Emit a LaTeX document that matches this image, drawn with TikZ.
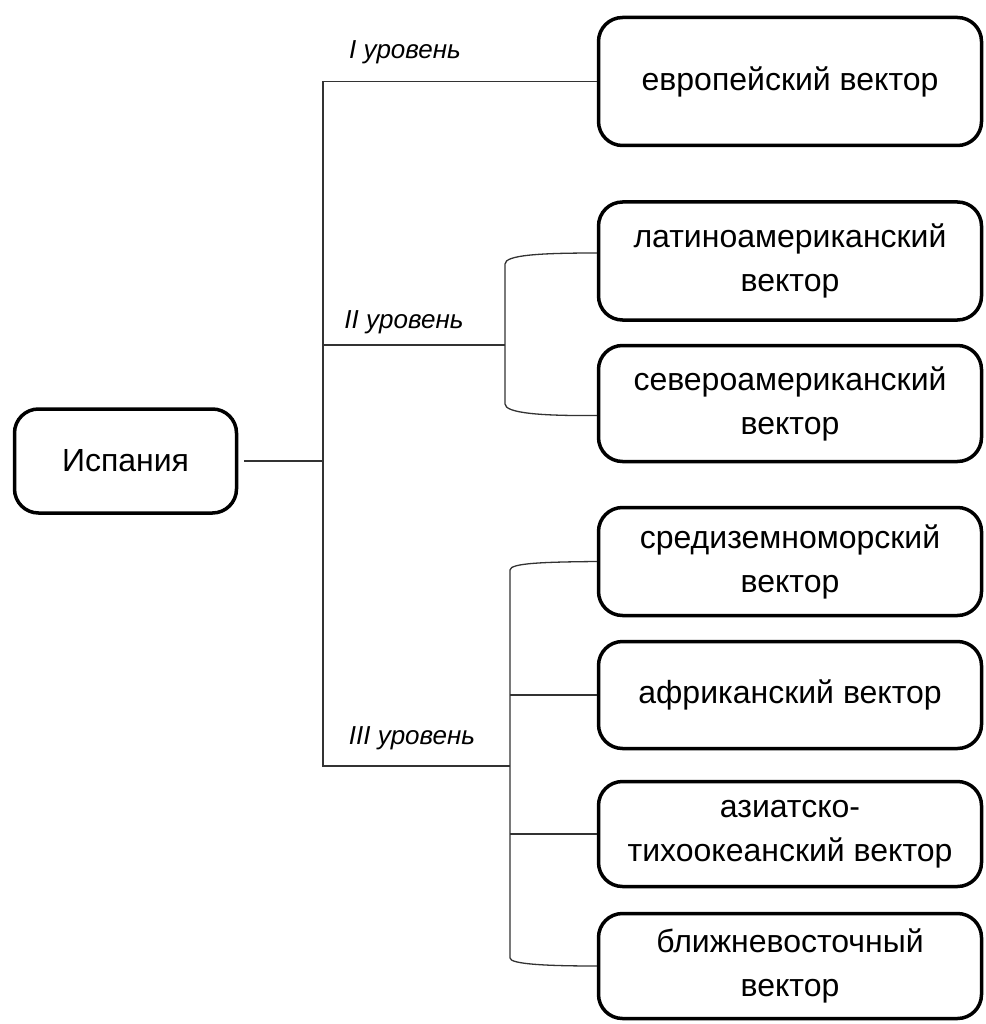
\documentclass[tikz,border=0pt]{standalone}
\usepackage{fontspec}
\setmainfont{Liberation Sans}
\usepackage{tikz}

\begin{document}
\begin{tikzpicture}[
                        x=1pt,
                        y=-1pt,
                        semithick
                    ]
                    \tikzstyle{every node}=[font=\fontsize{32}{44}\selectfont,text=black]
                    \tikzstyle{vector}=[draw=black,line width=3.5pt,rounded corners=24pt,
                                        minimum width=383pt,align=center,inner sep=0pt]
                    \tikzstyle{level}=[font=\fontsize{26}{30}\selectfont\itshape]
                    \tikzstyle{link}=[draw=black!80,line width=1.3pt]

                    \useasboundingbox (0,0) rectangle (985,1024);

                    \node[vector,minimum width=222pt,minimum height=104pt] (spain) at (125.5,461) {Испания};

                    \node[vector,minimum height=128pt] (euro)  at (790,81.5)  {европейский вектор};
                    \node[vector,minimum height=118pt] (latam) at (790,261)   {латиноамериканский\\вектор};
                    \node[vector,minimum height=116pt] (noram) at (790,403.5) {североамериканский\\вектор};
                    \node[vector,minimum height=108pt] (medit) at (790,561.5) {средиземноморский\\вектор};
                    \node[vector,minimum height=107pt] (afric) at (790,695)   {африканский вектор};
                    \node[vector,minimum height=105pt] (asia)  at (790,834)   {азиатско-\\тихоокеанский вектор};
                    \node[vector,minimum height=105pt] (neast) at (790,966)   {ближневосточный\\вектор};

                    \node[level] (lvlIname)   at (405,52)  {I уровень};
                    \node[level] (lvlIIname)  at (404,322) {II уровень};
                    \node[level] (lvlIIIname) at (412,738) {III уровень};

                    % junctions
                    \coordinate (trunk)  at (323,463);
                    \coordinate (lvlII)  at (505,345);
                    \coordinate (lvlIII) at (510,766);
                    \coordinate (b2top)  at (505,264);
                    \coordinate (b2bot)  at (505,404);
                    \coordinate (b3top)  at (510,570);
                    \coordinate (b3bot)  at (510,958);

                    \draw[link] ([xshift=6pt]spain.east) -- (spain.east -| trunk);
                    \draw[link] (euro.west) -| (trunk) |- (lvlIII);
                    \draw[link] (trunk |- lvlII) -- (lvlII);

                    \draw[link] ([yshift=8pt]latam.west) .. controls (540,253) and (505,255) .. (b2top)
                                -- (b2bot) .. controls (505,413) and (540,416) .. ([yshift=-12pt]noram.west);

                    \draw[link] (medit.west) .. controls (545,562) and (510,563) .. (b3top)
                                -- (b3bot) .. controls (510,964) and (545,966) .. (neast.west);
                    \draw[link] (afric.west) -- (afric.west -| lvlIII);
                    \draw[link] (asia.west)  -- (asia.west -| lvlIII);

                \end{tikzpicture}
\end{document}
